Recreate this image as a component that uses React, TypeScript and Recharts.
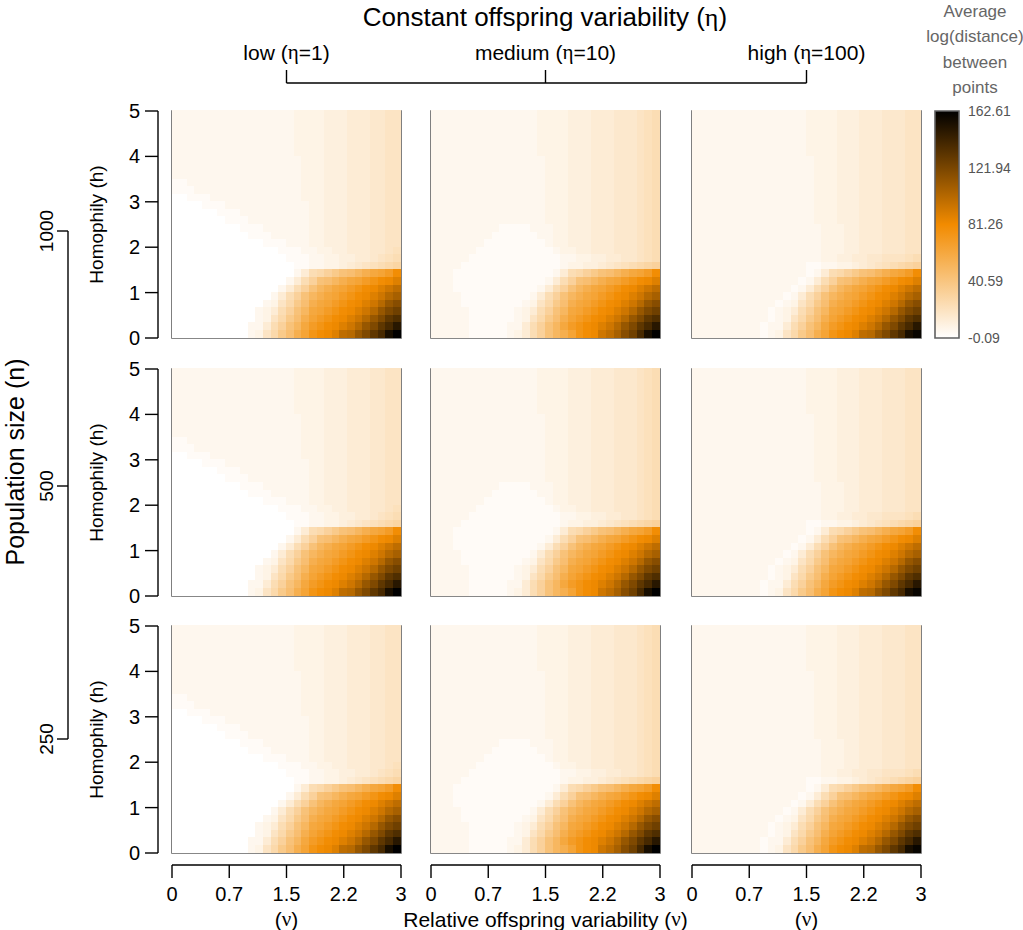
import React from 'react';
import { ScatterChart, Scatter, XAxis, YAxis, ReferenceArea } from 'recharts';

// axis ticks / labels
const NU_TICKS = [0, 0.75, 1.5, 2.25, 3];
const NU_LABELS = ['0', '0.7', '1.5', '2.2', '3'];
const H_TICKS = [0, 1, 2, 3, 4, 5];
const ETA_LABELS = ['low (η=1)', 'medium (η=10)', 'high (η=100)'];
const N_LABELS = ['1000', '500', '250'];
const CBAR_TICKS = [-0.09, 40.59, 81.26, 121.94, 162.61];
const CBAR_TITLE = ['Average', 'log(distance)', 'between', 'points'];
const V_MIN = -0.09;
const V_MAX = 162.61;

// heatmap grids, 30 x 30 cells (nu 0..3 left->right, h 5..0 top->bottom)
// each char is a level 0..Z on the 62-step scale (Z = V_MAX); "c*n" repeats c n times
const LEVEL_CHARS = '0123456789abcdefghijklmnopqrstuvwxyzABCDEFGHIJKLMNOPQRSTUVWXYZ';

const GRID_N1000_ETA1 = [
  '2*16 3*4 4*3 5*3 6*2 7*2',
  '2*16 3*4 4*3 5*3 6*2 7*2',
  '2*16 3*4 4*3 5*3 6*2 7*2',
  '2*16 3*4 4*3 5*3 6*2 7*2',
  '2*16 3*4 4*3 5*3 6*2 7*2',
  '2*16 3*4 4*3 5*3 6*2 7*2',
  '2*17 3*3 4*3 5*3 6*2 7*2',
  '2*17 3*3 4*3 5*3 6*2 7*2',
  '2*17 3*3 4*3 5*3 6*2 7*2',
  '1*2 2*15 3*3 4*3 5*3 6*2 7*2',
  '1*3 2*14 3*3 4*3 5*3 6*2 7*2',
  '0*2 1*3 2*12 3*3 4*3 5*3 6*2 7*2',
  '0*4 1*3 2*11 3*2 4*3 5*3 6*2 7*2',
  '0*6 1*3 2*9 3*2 4*3 5*3 6*2 7*2',
  '0*7 1*3 2*8 3*2 4*3 5*3 6*2 7*2',
  '0*9 1*3 2*6 3*2 4*3 5*3 6*2 7*2',
  '0*10 1*3 2*5 3*2 4*3 5*3 6*2 7*2',
  '0*12 1*3 2*3 3*2 4*3 5*3 6*2 7*2',
  '0*14 1*3 2*2 3*2 4*2 5*3 6*2 78',
  '0*15 1*3 2*2 3*2 4*2 5*2 6 789',
  '0*16 1*2 2*2 3*2 4567 89ab',
  '0*16 259aceghjlnoqu',
  '0*15 259cghjlnoqsuvx',
  '0*14 259cgjlnoqsuvxzB',
  '0*13 259cgjlnoqsuvxzCE',
  '0*12 237aehlnoqsuvxzCGI',
  '0*11 2359cgjnoqsuvxzCGJL',
  '0*11 237aehloqsuvxzCGJNP',
  '0*10 2259cgjnqsuvxzCGJNQU',
  '0*10 237aehlosuvxBCGJNQWZ',
];

const GRID_N1000_ETA10 = [
  '2*14 3*4 4*3 5*3 6*3 789',
  '2*14 3*4 4*3 5*3 6*3 789',
  '2*14 3*4 4*3 5*3 6*3 789',
  '2*14 3*4 4*3 5*3 6*3 789',
  '2*14 3*4 4*3 5*3 6*3 789',
  '2*14 3*4 4*3 5*3 6*3 789',
  '2*15 3*3 4*3 5*3 6*3 789',
  '2*15 3*3 4*3 5*3 6*3 789',
  '2*15 3*3 4*3 5*3 6*3 789',
  '2*15 3*3 4*3 5*3 6*3 789',
  '2*15 3*3 4*3 5*3 6*3 789',
  '2*15 3*3 4*3 5*3 6*3 789',
  '2*15 3*3 4*3 5*3 6*3 789',
  '2*15 3*3 4*3 5*3 6*3 789',
  '2*15 3*3 4*3 5*3 6*3 789',
  '2*9 1*4 2*3 3*2 4*3 5*3 6*3 789',
  '2*8 1*6 2*2 3*2 4*3 5*3 6*3 789',
  '2*7 1*8 2 3*2 4*3 5*3 6*3 789',
  '2*6 1*10 2 3*2 4*2 5*3 6*3 789',
  '2*5 1*12 2*2 3*2 4*2 5*2 6*2 789',
  '2*4 1*13 2 3*2 4*2 56789abc',
  '2*3 1*13 259aceghjlnoqu',
  '2*3 1*12 259cghjlnoqsuvx',
  '2*3 1*11 259cgjlnoqsuvxzB',
  '2*4 1*9 259cgjlnoqsuvxzCE',
  '2*4 1*8 237aehlnoqsuvxzCGI',
  '2*5 1*6 2359cgjnoqsuvxzCGJL',
  '2*5 1*6 237aehloqsuvxzCGJNP',
  '2*5 1*5 2259cgjnqsuvxzCGJNQU',
  '2*5 1*5 2359cgjlosuvzBEILQWZ',
];

const GRID_N1000_ETA100 = [
  '2*15 3*4 4*3 5*3 6*3 7*2',
  '2*15 3*4 4*3 5*3 6*3 7*2',
  '2*15 3*4 4*3 5*3 6*3 7*2',
  '2*15 3*4 4*3 5*3 6*3 7*2',
  '2*15 3*4 4*3 5*3 6*3 7*2',
  '2*15 3*4 4*3 5*3 6*3 7*2',
  '2*16 3*3 4*3 5*3 6*3 7*2',
  '2*16 3*3 4*3 5*3 6*3 7*2',
  '2*16 3*3 4*3 5*3 6*3 7*2',
  '2*16 3*3 4*3 5*3 6*3 7*2',
  '2*16 3*3 4*3 5*3 6*3 7*2',
  '2*16 3*3 4*3 5*3 6*3 7*2',
  '2*16 3*3 4*3 5*3 6*3 7*2',
  '2*16 3*3 4*3 5*3 6*3 7*2',
  '2*16 3*3 4*3 5*3 6*3 7*2',
  '2*17 3*3 4*2 5*3 6*3 7*2',
  '2*17 3*3 4*2 5*3 6*3 7*2',
  '2*17 3*3 4*2 5*3 6*3 7*2',
  '2*17 3*3 4*2 5*3 6*3 7*2',
  '2*17 3*2 4*2 5*2 6*2 7*2 789',
  '2*15 1*2 2*2 3*2 4 56789abc',
  '2*15 1 259aceghjlnoqu',
  '2*14 1 259cghjlnoqsuvx',
  '2*13 1 259cgjlnoqsuvxzB',
  '2*12 1 259cgjlnoqsuvxzCE',
  '2*11 1 237aehlnoqsuvxzCGI',
  '2*10 1 2359cgjnoqsuvxzCGJL',
  '2*10 1 237aehloqsuvxzCGJNP',
  '2*9 1 2259cgjnqsuvxzCGJNQU',
  '2*9 1 237aehlosuvxBCGJNQWY',
];

// the n = 500 and n = 250 rows read the same as n = 1000
const GRID_N500_ETA1 = GRID_N1000_ETA1;
const GRID_N500_ETA10 = GRID_N1000_ETA10;
const GRID_N500_ETA100 = GRID_N1000_ETA100;
const GRID_N250_ETA1 = GRID_N1000_ETA1;
const GRID_N250_ETA10 = GRID_N1000_ETA10;
const GRID_N250_ETA100 = GRID_N1000_ETA100;

const PANELS = [
  [GRID_N1000_ETA1, GRID_N1000_ETA10, GRID_N1000_ETA100],
  [GRID_N500_ETA1, GRID_N500_ETA10, GRID_N500_ETA100],
  [GRID_N250_ETA1, GRID_N250_ETA10, GRID_N250_ETA100],
];

// layout
const PW = 229;
const PH = 227;
const COL_X = [172, 431, 692];
const ROW_Y = [111, 369, 626];
const M = 14;
const Y_W = 70;
const X_H = 80;
const CB_X = 935;
const CB_W = 24;
const SANS = '"Liberation Sans", Arial, sans-serif';
const SERIF = '"Liberation Serif", "DejaVu Serif", serif';

const ORANGE = [242, 139, 0];

function colorOf(v: number) {
  const t = Math.min(1, Math.max(0, (v - V_MIN) / (V_MAX - V_MIN)));
  const from = t < 0.5 ? [255, 255, 255] : ORANGE;
  const to = t < 0.5 ? ORANGE : [0, 0, 0];
  const s = t < 0.5 ? t * 2 : (t - 0.5) * 2;
  const c = from.map((x, i) => Math.round(x + (to[i] - x) * s));
  return `rgb(${c.join(',')})`;
}

function decodeRow(s: string) {
  return s
    .split(' ')
    .map((tok) => {
      const [ch, n] = tok.split('*');
      return n ? ch.repeat(Number(n)) : ch;
    })
    .join('');
}

function toCells(grid: string[]) {
  const out: { nu: number; h: number; v: number; fill: string }[] = [];
  const rows = grid.map(decodeRow);
  const top = LEVEL_CHARS.length - 1;
  rows.forEach((row, i) => {
    for (let j = 0; j < row.length; j++) {
      const v = V_MIN + (LEVEL_CHARS.indexOf(row[j]) / top) * (V_MAX - V_MIN);
      out.push({
        nu: ((j + 0.5) * 3) / row.length,
        h: 5 - ((i + 0.5) * 5) / rows.length,
        v,
        fill: colorOf(v),
      });
    }
  });
  return out;
}

const CellShape = (props: any) => {
  const { cx, cy, payload } = props;
  const w = PW / 30;
  const hh = PH / 30;
  const x0 = Math.floor(cx - w / 2);
  const x1 = Math.ceil(cx + w / 2);
  const y0 = Math.floor(cy - hh / 2);
  const y1 = Math.ceil(cy + hh / 2);
  return <rect x={x0} y={y0} width={x1 - x0} height={y1 - y0} fill={payload.fill} shapeRendering="crispEdges" />;
};

function Greek({ s }: { s: string }) {
  return (
    <>
      {s.split(/([ην])/).map((part, k) =>
        part === 'η' || part === 'ν' ? (
          <tspan key={k} fontFamily={SERIF}>
            {part}
          </tspan>
        ) : (
          part
        )
      )}
    </>
  );
}

function XTick(p: any) {
  const { x, payload, plotBottom } = p;
  const i = NU_TICKS.indexOf(payload.value);
  const ay = plotBottom + 12;
  return (
    <g>
      {i === 0 && <line x1={x} x2={x + PW} y1={ay} y2={ay} stroke="#000" strokeWidth={1.4} />}
      <line x1={x} x2={x} y1={ay} y2={ay + 13} stroke="#000" strokeWidth={1.4} />
      <text x={x} y={ay + 29} textAnchor="middle" dominantBaseline="central" fontSize={20} fontFamily={SANS} fill="#000">
        {NU_LABELS[i]}
      </text>
    </g>
  );
}

function YTick(p: any) {
  const { y, payload, plotLeft } = p;
  const ax = plotLeft - 14;
  return (
    <g>
      {payload.value === 0 && <line x1={ax} x2={ax} y1={y} y2={y - PH} stroke="#000" strokeWidth={1.4} />}
      <line x1={ax - 13} x2={ax} y1={y} y2={y} stroke="#000" strokeWidth={1.4} />
      <text x={ax - 18} y={y} textAnchor="end" dominantBaseline="central" fontSize={20} fontFamily={SANS} fill="#000">
        {payload.value}
      </text>
    </g>
  );
}

function Panel({ grid, row, col }: { grid: string[]; row: number; col: number }) {
  const showX = row === 2;
  const showY = col === 0;
  const cells = React.useMemo(() => toCells(grid), [grid]);
  const plotLeft = M + (showY ? Y_W : 0);
  const plotBottom = M + PH;
  return (
    <div style={{ position: 'absolute', left: COL_X[col] - plotLeft, top: ROW_Y[row] - M }}>
      <ScatterChart
        width={PW + 2 * M + (showY ? Y_W : 0)}
        height={PH + 2 * M + (showX ? X_H : 0)}
        margin={{ top: M, right: M, bottom: M, left: M }}
      >
        <XAxis
          type="number"
          dataKey="nu"
          domain={[0, 3]}
          ticks={NU_TICKS}
          interval={0}
          hide={!showX}
          height={X_H}
          axisLine={false}
          tickLine={false}
          tick={(p: any) => <XTick {...p} plotBottom={plotBottom} />}
        />
        <YAxis
          type="number"
          dataKey="h"
          domain={[0, 5]}
          ticks={H_TICKS}
          interval={0}
          hide={!showY}
          width={Y_W}
          axisLine={false}
          tickLine={false}
          tick={(p: any) => <YTick {...p} plotLeft={plotLeft} />}
        />
        <Scatter data={cells} shape={CellShape} isAnimationActive={false} />
        <ReferenceArea x1={0} x2={3} y1={0} y2={5} fill="none" stroke="#606060" strokeWidth={1.6} />
      </ScatterChart>
    </div>
  );
}

function ColorBar() {
  return (
    <div style={{ position: 'absolute', left: CB_X - M, top: ROW_Y[0] - M }}>
      <svg width={0} height={0} style={{ position: 'absolute' }}>
        <defs>
          <linearGradient id="cbarFill" x1="0" y1="0" x2="0" y2="1">
            <stop offset="0%" stopColor={colorOf(V_MAX)} />
            <stop offset="50%" stopColor={colorOf((V_MIN + V_MAX) / 2)} />
            <stop offset="100%" stopColor={colorOf(V_MIN)} />
          </linearGradient>
        </defs>
      </svg>
      <ScatterChart width={CB_W + M + 60} height={PH + 2 * M} margin={{ top: M, right: 0, bottom: M, left: M }}>
        <XAxis type="number" dataKey="x" domain={[0, 1]} hide />
        <YAxis
          type="number"
          dataKey="v"
          domain={[V_MIN, V_MAX]}
          ticks={CBAR_TICKS}
          interval={0}
          orientation="right"
          width={60}
          axisLine={false}
          tickLine={false}
          tickSize={0}
          tickMargin={9}
          tick={{ fill: '#555', fontSize: 14, fontFamily: SANS }}
          tickFormatter={(v: number) => v.toFixed(2)}
        />
        <Scatter data={CBAR_TICKS.map((v) => ({ x: 0.5, v }))} shape={() => <g />} isAnimationActive={false} />
        <ReferenceArea
          x1={0}
          x2={1}
          y1={V_MIN}
          y2={V_MAX}
          fill="url(#cbarFill)"
          fillOpacity={1}
          stroke="#606060"
          strokeWidth={1.6}
        />
      </ScatterChart>
    </div>
  );
}

function Annotations() {
  const colCenters = COL_X.map((x) => x + PW / 2);
  const nTicks = [231, 486, 739];
  return (
    <svg width={1023} height={930} style={{ position: 'absolute', left: 0, top: 0 }} fontFamily={SANS}>
      <text x={545} y={17} fontSize={26} textAnchor="middle" dominantBaseline="central">
        <Greek s="Constant offspring variability (η)" />
      </text>
      {ETA_LABELS.map((s, i) => (
        <text key={s} x={colCenters[i]} y={52} fontSize={21} textAnchor="middle" dominantBaseline="central">
          <Greek s={s} />
        </text>
      ))}
      <line x1={colCenters[0]} x2={colCenters[2]} y1={83} y2={83} stroke="#000" strokeWidth={1.4} />
      {colCenters.map((x) => (
        <line key={x} x1={x} x2={x} y1={83} y2={70} stroke="#000" strokeWidth={1.4} />
      ))}

      <text
        x={15}
        y={462}
        fontSize={25}
        textAnchor="middle"
        dominantBaseline="central"
        transform="rotate(-90 15 462)"
      >
        Population size (n)
      </text>
      <line x1={68} x2={68} y1={nTicks[0]} y2={nTicks[2]} stroke="#000" strokeWidth={1.4} />
      {nTicks.map((y, i) => (
        <g key={y}>
          <line x1={57} x2={68} y1={y} y2={y} stroke="#000" strokeWidth={1.4} />
          <text x={46} y={y} fontSize={19} textAnchor="middle" dominantBaseline="central" transform={`rotate(-90 46 ${y})`}>
            {N_LABELS[i]}
          </text>
        </g>
      ))}

      {ROW_Y.map((y) => (
        <text
          key={y}
          x={96}
          y={y + PH / 2}
          fontSize={19}
          textAnchor="middle"
          dominantBaseline="central"
          transform={`rotate(-90 96 ${y + PH / 2})`}
        >
          Homophily (h)
        </text>
      ))}

      {['(ν)', 'Relative offspring variability (ν)', '(ν)'].map((s, i) => (
        <text key={i} x={colCenters[i]} y={919} fontSize={21} textAnchor="middle" dominantBaseline="central">
          <Greek s={s} />
        </text>
      ))}

      {CBAR_TITLE.map((s, i) => (
        <text key={s} x={975} y={11 + i * 25.5} fontSize={17} fill="#666" textAnchor="middle" dominantBaseline="central">
          {s}
        </text>
      ))}
    </svg>
  );
}

export default function App() {
  return (
    <div
      style={{
        position: 'absolute',
        left: 0,
        top: 0,
        width: 1023,
        height: 930,
        overflow: 'hidden',
        background: '#fff',
        fontFamily: SANS,
      }}
    >
      <Annotations />
      {PANELS.map((rowGrids, r) =>
        rowGrids.map((g, c) => <Panel key={`${r}-${c}`} grid={g} row={r} col={c} />)
      )}
      <ColorBar />
    </div>
  );
}
